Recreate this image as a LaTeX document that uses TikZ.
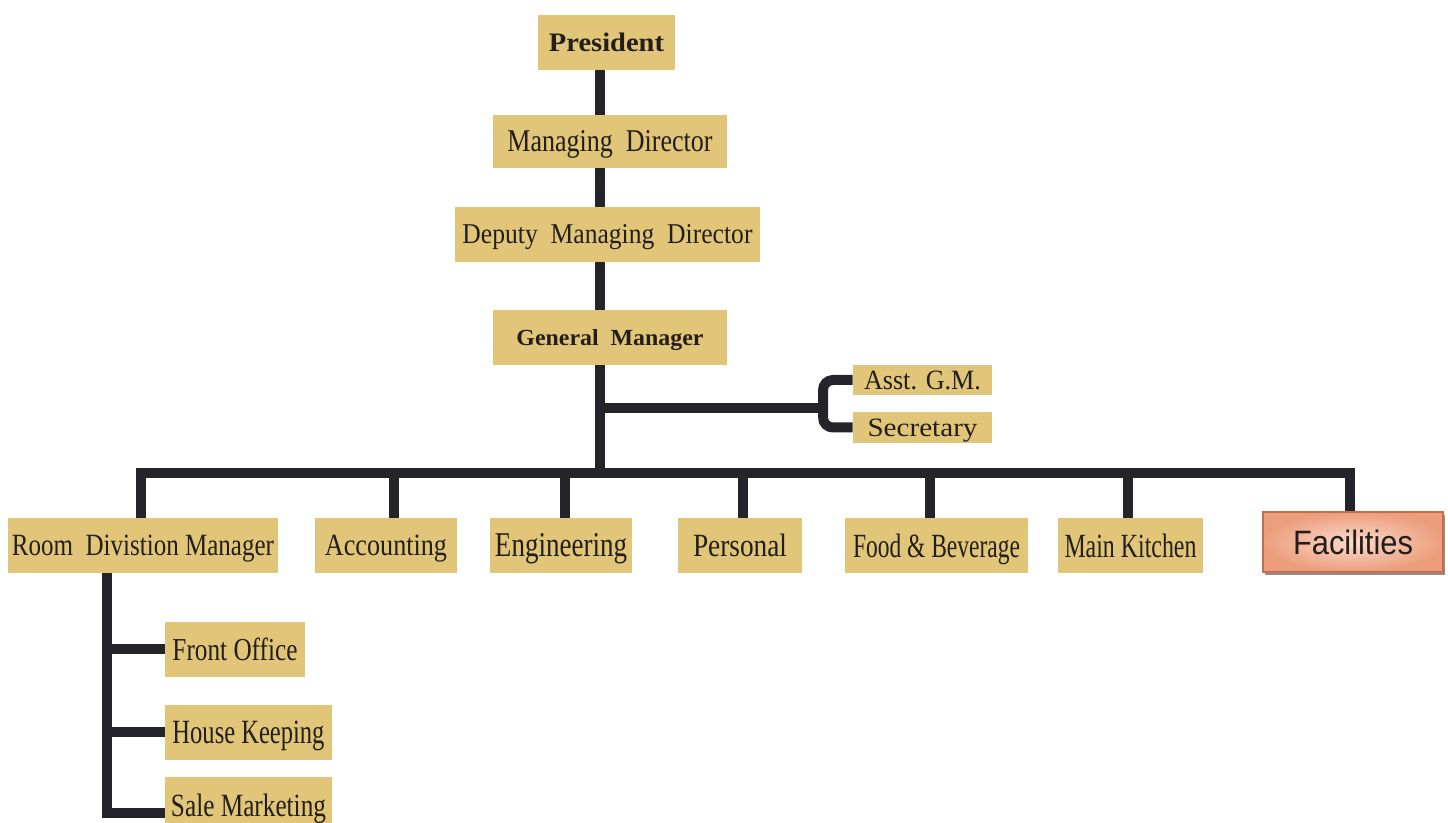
\documentclass[tikz,border=0pt]{standalone}
\usepackage{fontspec}
\setmainfont{Liberation Serif}
\newfontfamily\facfont{Liberation Sans}
\usetikzlibrary{shadows}
\definecolor{boxtan}{RGB}{225,197,120}
\definecolor{linedark}{RGB}{36,36,42}
\definecolor{txtdark}{RGB}{35,30,25}
\definecolor{facin}{RGB}{250,218,204}
\definecolor{facout}{RGB}{236,158,124}
\definecolor{facline}{RGB}{196,110,78}
\newcommand{\ft}[3]{\resizebox{#1pt}{#2pt}{#3}}
\begin{document}
\begin{tikzpicture}[x=0.5pt,y=-0.5pt,
  box/.style={fill=boxtan, inner sep=0pt, text depth=0pt, text=txtdark},
  facbox/.style={inner sep=0pt, text depth=0pt, text=txtdark, draw=facline, line width=0.6pt,
    inner color=facin, outer color=facout,
    drop shadow={shadow xshift=1.2pt, shadow yshift=-1.6pt, fill=black!55, opacity=0.8}},
  conn/.style={draw=linedark, line width=5pt}]
\useasboundingbox (0,0) rectangle (1448,823);

% top chain
\node[box, minimum width=68.5pt, minimum height=27.5pt] (pres) at (606.5,42.5) {\ft{57.5}{9.25}{\bfseries President}};
\node[box, minimum width=117pt, minimum height=26.5pt] (md) at (610,141.5) {\ft{102.5}{10.5}{Managing\ \ Director}};
\node[box, minimum width=152.5pt, minimum height=27.5pt] (dmd) at (607.5,234.5) {\ft{145}{9.5}{Deputy\ \ Managing\ \ Director}};
\node[box, minimum width=117pt, minimum height=27.5pt] (gm) at (610,337.5) {\ft{93.5}{8}{\bfseries General\ \ Manager}};

% assistants
\node[box, minimum width=69.5pt, minimum height=15pt] (asst) at (922.5,380) {\ft{58.5}{9.25}{Asst. G.M.}};
\node[box, minimum width=69.5pt, minimum height=15.5pt] (sec) at (922.5,427.5) {\ft{55}{8.75}{Secretary}};

% department row
\node[box, minimum width=135pt, minimum height=27.5pt] (rdm) at (143,545.5) {\ft{131}{10.25}{Room\ \ Divistion Manager}};
\node[box, minimum width=71pt, minimum height=27.5pt] (acc) at (386,545.5) {\ft{61}{10.25}{Accounting}};
\node[box, minimum width=71pt, minimum height=27.5pt] (eng) at (561,545.5) {\ft{66}{11.5}{Engineering}};
\node[box, minimum width=62pt, minimum height=27.5pt] (per) at (740,545.5) {\ft{47}{11.25}{Personal}};
\node[box, minimum width=91.5pt, minimum height=27.5pt] (fb) at (936.5,545.5) {\ft{83.5}{11.75}{Food \& Beverage}};
\node[box, minimum width=72.5pt, minimum height=27.5pt] (mk) at (1130.5,545.5) {\ft{66}{11.75}{Main Kitchen}};
\node[facbox, minimum width=90pt, minimum height=30pt] (fac) at (1353,542) {\ft{60}{12.25}{\facfont Facilities}};

% room division sub-units
\node[box, minimum width=70pt, minimum height=27.5pt] (fo) at (235,649.5) {\ft{62.5}{11.25}{Front Office}};
\node[box, minimum width=83.5pt, minimum height=27.5pt] (hk) at (248.5,732.5) {\ft{76}{11.25}{House Keeping}};
\node[box, minimum width=83.5pt, minimum height=27.5pt] (sm) at (248.5,805) {\ft{77.5}{11.25}{Sale Marketing}};

% coordinates
\coordinate (bus) at (600,473);
\coordinate (brk) at (823,408);
\coordinate (rdv) at (107,573);
\coordinate (dacc) at (394,473);
\coordinate (deng) at (565,473);
\coordinate (dper) at (743,473);
\coordinate (dfb) at (930,473);
\coordinate (dmk) at (1128,473);
\coordinate (drdm) at (141,473);
\coordinate (dfac) at (1350,473);

% trunk
\draw[conn] (pres.south -| bus) -- (md.north -| bus);
\draw[conn] (md.south -| bus) -- (dmd.north -| bus);
\draw[conn] (dmd.south -| bus) -- (gm.north -| bus);
\draw[conn] (gm.south -| bus) -- (bus);

% assistants branch
\draw[conn] (brk -| bus) -- (brk);
\draw[conn, rounded corners=5pt] (asst.west) -| (brk) |- (sec.west);

% bus and drops
\draw[conn] (drdm |- rdm.north) -- (drdm) -- (dfac) -- (dfac |- fac.north);
\draw[conn] (dacc) -- (dacc |- acc.north);
\draw[conn] (deng) -- (deng |- eng.north);
\draw[conn] (dper) -- (dper |- per.north);
\draw[conn] (dfb) -- (dfb |- fb.north);
\draw[conn] (dmk) -- (dmk |- mk.north);

% room division branch
\draw[conn] (rdv) |- (fo.west);
\draw[conn] (rdv) |- (hk.west);
\draw[conn] (rdv) |- ([yshift=-4pt]sm.west);
\end{tikzpicture}
\end{document}
